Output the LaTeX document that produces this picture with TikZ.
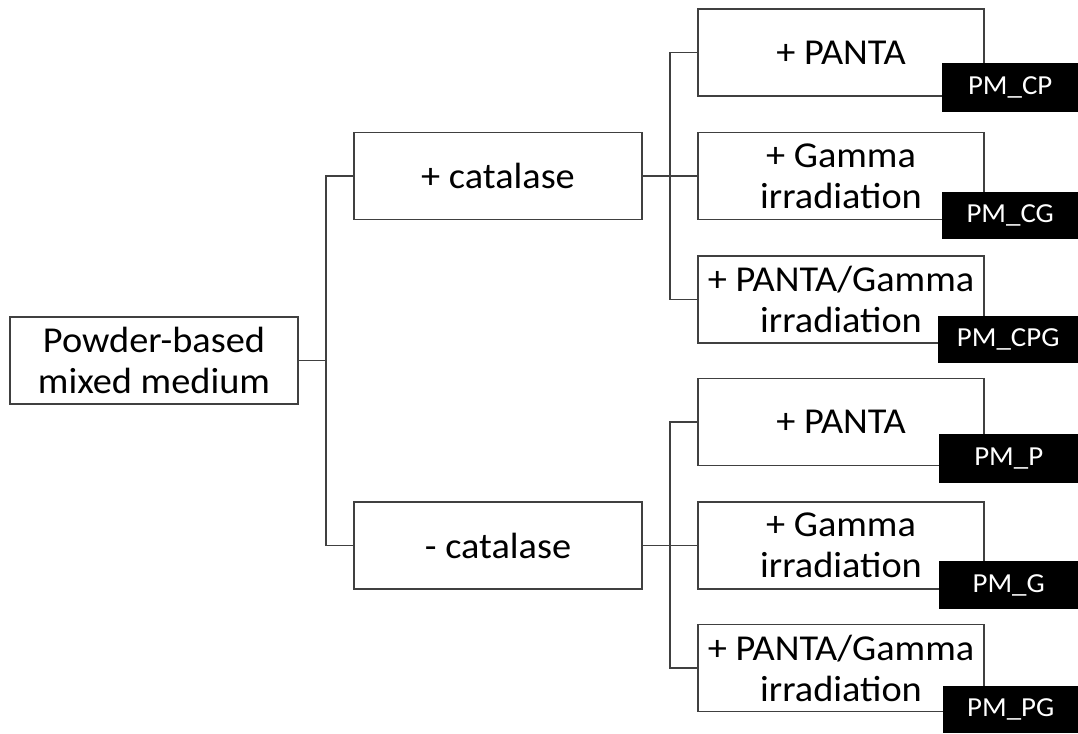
\documentclass[tikz,border=0pt]{standalone}
\usepackage{fontspec}
\setmainfont{Carlito}[FakeStretch=1.05]
\usetikzlibrary{calc}
\definecolor{edge}{HTML}{404040}
\tikzset{
  x=1pt, y=-1pt,
  box/.style={draw=edge, line width=1.2pt, fill=white, inner sep=0pt,
    align=center, font=\fontsize{36.5}{41}\selectfont},
  wide/.style={box, minimum width=288pt, minimum height=87pt},
  leaf/.style={box, minimum width=286pt, minimum height=87pt},
  tag/.style={fill=black, text=white, inner sep=0pt, anchor=north west,
    font=\fontsize{27.5}{30}\selectfont},
  link/.style={draw=edge, line width=1.2pt},
}
\begin{document}
\begin{tikzpicture}
\useasboundingbox (0,0) rectangle (1078,733);

% root and the two catalase branches
\node[wide] (main) at (154,360.5) {Powder-based\\mixed medium};
\node[wide] (pcat) at (498,176) {+ catalase};
\node[wide] (mcat) at (498,545.5) {- catalase};

% treatments
\node[leaf] (r1) at (841,52.5) {+ PANTA};
\node[leaf] (r2) at (841,176) {+ Gamma\\irradiation};
\node[leaf] (r3) at (841,299.5) {+ PANTA/Gamma\\irradiation};
\node[leaf] (r4) at (841,422) {+ PANTA};
\node[leaf] (r5) at (841,545.5) {+ Gamma\\irradiation};
\node[leaf] (r6) at (841,668) {+ PANTA/Gamma\\irradiation};

% sample codes
\node[tag, minimum width=136pt, minimum height=49pt] (t1) at (942,63) {PM\_CP};
\node[tag, minimum width=136pt, minimum height=47pt] (t2) at (942,192) {PM\_CG};
\node[tag, minimum width=140pt, minimum height=47pt] (t3) at (938,316) {PM\_CPG};
\node[tag, minimum width=139pt, minimum height=49pt] (t4) at (939,434) {PM\_P};
\node[tag, minimum width=139pt, minimum height=48pt] (t5) at (939,561) {PM\_G};
\node[tag, minimum width=135pt, minimum height=47pt] (t6) at (943,686) {PM\_PG};

% connectors
\coordinate (ja) at ($(main.east)!0.5!(main.east -| pcat.west)$);
\coordinate (jb) at ($(pcat.east)!0.5!(pcat.east -| r1.west)$);
\coordinate (jc) at ($(mcat.east)!0.5!(mcat.east -| r4.west)$);

\draw[link] (main.east) -- (ja);
\draw[link] (pcat.west) -| (ja) |- (mcat.west);

\draw[link] (pcat.east) -- (jb) -- (r2.west);
\draw[link] (r1.west) -| (jb) |- (r3.west);

\draw[link] (mcat.east) -- (jc) -- (r5.west);
\draw[link] (r4.west) -| (jc) |- (r6.west);
\end{tikzpicture}
\end{document}
